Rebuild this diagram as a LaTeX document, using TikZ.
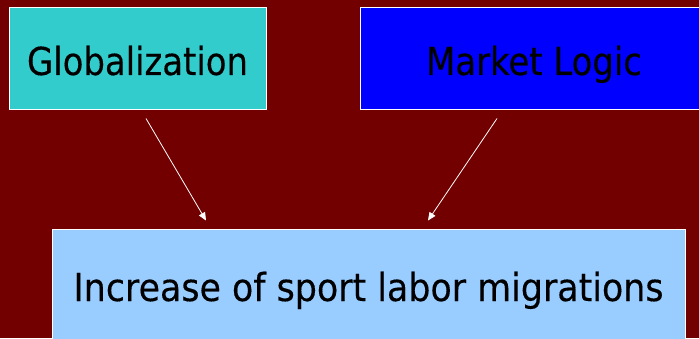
\documentclass[tikz,border=0pt]{standalone}
\usepackage{fontspec}
\setmainfont{DejaVu Sans}[FakeStretch=0.88, FakeBold=0.3]
\newfontfamily\widerfont{DejaVu Sans}[FakeStretch=0.905, FakeBold=0.3]
\usetikzlibrary{arrows.meta}
\definecolor{bgred}{RGB}{115,0,0}
\definecolor{turq}{RGB}{51,204,204}
\definecolor{pureblue}{RGB}{0,0,255}
\definecolor{lightblue}{RGB}{153,204,255}
\tikzset{
  box/.style={draw=white, line width=1pt, inner sep=0pt, text=black,
    font=\fontsize{38.5}{40}\selectfont, text height=32.5pt, text depth=0pt},
  arr/.style={draw=white, line width=0.8pt, -{Triangle[length=8pt,width=7pt]}}
}
\begin{document}
\begin{tikzpicture}[x=1pt,y=1pt]
\fill[bgred] (0,0) rectangle (699,338);
\useasboundingbox (0,0) rectangle (699,338);
\node[box, fill=turq, minimum width=257pt, minimum height=102.5pt] (glob) at (137.5,279.25) {Globalization};
\node[box, fill=pureblue, minimum width=348pt, minimum height=102.5pt] (ml) at (534,279.25) {Market Logic};
\node[box, fill=lightblue, minimum width=633pt, minimum height=116pt, text height=28pt, font=\widerfont\fontsize{38.5}{40}\selectfont] (inc) at (368.5,51) {Increase of sport labor migrations};
\draw[arr] ([xshift=8.5pt,yshift=-8pt]glob.south) -- ([xshift=-162.5pt,yshift=8pt]inc.north);
\draw[arr] ([xshift=-37pt,yshift=-8pt]ml.south) -- ([xshift=59.5pt,yshift=8pt]inc.north);
\end{tikzpicture}
\end{document}
